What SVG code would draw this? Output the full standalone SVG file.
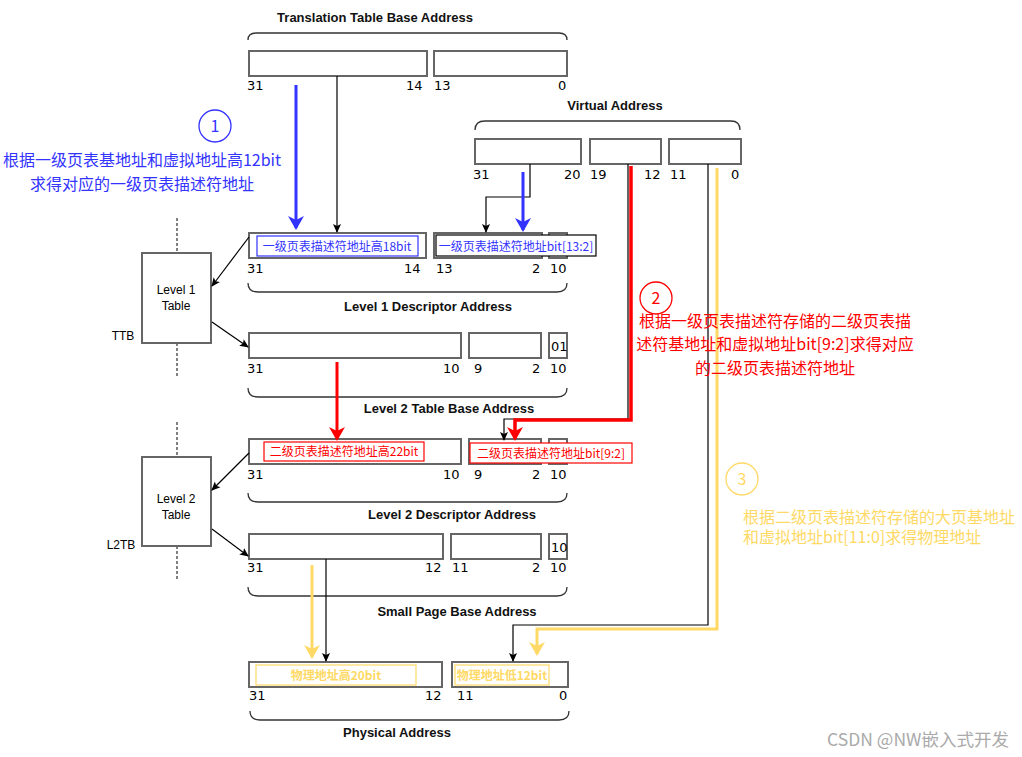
<svg xmlns="http://www.w3.org/2000/svg" width="1022" height="757" viewBox="0 0 1022 757">
<defs>
<style>
.bx{fill:#fff;stroke:#666;stroke-width:2}
.br{fill:none;stroke:#333;stroke-width:1.3}
.n{font-family:"DejaVu Sans",sans-serif;font-size:13px;fill:#000}
.t{font-family:"Liberation Sans",Arial,sans-serif;font-size:13px;font-weight:bold;fill:#111;text-anchor:middle}
.lt{font-family:"Liberation Sans",Arial,sans-serif;font-size:12px;fill:#000;text-anchor:middle}
.cn{font-family:"Noto Sans CJK SC",sans-serif;font-size:12px;text-anchor:middle}
.an{font-family:"Noto Sans CJK SC",sans-serif;font-size:16px}
.k{fill:none;stroke:#000;stroke-width:1.2}
.dot{stroke:#000;stroke-width:1;stroke-dasharray:3,2}
</style>
<marker id="ak" markerWidth="10" markerHeight="10" refX="8" refY="5" orient="auto" markerUnits="userSpaceOnUse"><path d="M0,1 L9,5 L0,9 L2,5z" fill="#000"/></marker>
<marker id="ab" markerWidth="16" markerHeight="16" refX="12" refY="8" orient="auto" markerUnits="userSpaceOnUse"><path d="M0,0 L14,8 L0,16 L4,8z" fill="#3333FF"/></marker>
<marker id="ar" markerWidth="16" markerHeight="16" refX="12" refY="8" orient="auto" markerUnits="userSpaceOnUse"><path d="M0,0 L14,8 L0,16 L4,8z" fill="#FF0000"/></marker>
<marker id="ay" markerWidth="16" markerHeight="16" refX="12" refY="8" orient="auto" markerUnits="userSpaceOnUse"><path d="M0,0 L14,8 L0,16 L4,8z" fill="#FFD966"/></marker>
</defs>
<rect width="1022" height="757" fill="#fff"/>

<g id="ttba">
<text class="t" x="375" y="22">Translation Table Base Address</text>
<path class="br" d="M248,40 Q248,33 256,33 L559,33 Q567,33 567,40"/>
<rect class="bx" x="249" y="51" width="178" height="25"/>
<rect class="bx" x="434" y="51" width="133" height="25"/>
<text class="n" x="247" y="90">31</text><text class="n" x="406" y="90">14</text>
<text class="n" x="434" y="90">13</text><text class="n" x="558" y="90">0</text>
</g>

<g id="va">
<text class="t" x="615" y="110">Virtual Address</text>
<path class="br" d="M475,130 Q475,121 485,121 L731,121 Q740,121 740,130"/>
<rect class="bx" x="475" y="139" width="106" height="25"/>
<rect class="bx" x="590" y="139" width="71" height="25"/>
<rect class="bx" x="669" y="139" width="72" height="25"/>
<text class="n" x="473" y="179">31</text><text class="n" x="564" y="179">20</text>
<text class="n" x="590" y="179">19</text><text class="n" x="644" y="179">12</text>
<text class="n" x="670" y="179">11</text><text class="n" x="731" y="179">0</text>
</g>

<g id="l1desc">
<rect class="bx" x="249" y="233" width="177" height="25"/>
<rect class="bx" x="434" y="233" width="108" height="25"/>
<rect class="bx" x="549" y="233" width="18" height="25"/>
<rect x="257" y="236" width="161" height="20" fill="#fff" stroke="#3333FF" stroke-width="1.2"/>
<text class="cn" x="337" y="251" fill="#3333FF">一级页表描述符地址高18bit</text>
<rect x="436" y="235" width="160" height="21" fill="#fff" stroke="#000" stroke-width="1.2"/>
<text class="cn" x="516" y="251" fill="#3333FF">一级页表描述符地址bit[13:2]</text>
<text class="n" x="247" y="273">31</text><text class="n" x="404" y="273">14</text>
<text class="n" x="436" y="273">13</text><text class="n" x="532" y="273">2</text><text class="n" x="550" y="273">10</text>
<path class="br" d="M248,283 Q248,292 258,292 L557,292 Q567,292 567,283"/>
<text class="t" x="428" y="311">Level 1 Descriptor Address</text>
</g>

<g id="l1table">
<line class="dot" x1="177" y1="218" x2="177" y2="253"/>
<line class="dot" x1="177" y1="343" x2="177" y2="378"/>
<rect class="bx" x="142" y="253" width="69" height="90"/>
<text class="lt" x="176" y="294">Level 1</text><text class="lt" x="176" y="310">Table</text>
<text class="lt" x="123" y="340">TTB</text>
</g>

<g id="l2tba">
<rect class="bx" x="249" y="333" width="212" height="25"/>
<rect class="bx" x="469" y="333" width="72" height="25"/>
<rect class="bx" x="549" y="333" width="18" height="25"/>
<text class="n" x="551" y="351">01</text>
<text class="n" x="247" y="373">31</text><text class="n" x="443" y="373">10</text>
<text class="n" x="474" y="373">9</text><text class="n" x="532" y="373">2</text><text class="n" x="550" y="373">10</text>
<path class="br" d="M248,388 Q248,397 258,397 L557,397 Q567,397 567,388"/>
<text class="t" x="449" y="413">Level 2 Table Base Address</text>
</g>

<g id="l2desc">
<rect class="bx" x="249" y="439" width="212" height="25"/>
<rect class="bx" x="469" y="439" width="72" height="25"/>
<rect class="bx" x="549" y="439" width="18" height="25"/>
<rect x="264" y="442" width="160" height="19" fill="#fff" stroke="#FF0000" stroke-width="1.2"/>
<text class="cn" x="344" y="456" fill="#FF0000">二级页表描述符地址高22bit</text>
<rect x="470" y="443" width="162" height="20" fill="#fff" stroke="#FF0000" stroke-width="1.2"/>
<text class="cn" x="551" y="458" fill="#FF0000">二级页表描述符地址bit[9:2]</text>
<text class="n" x="247" y="479">31</text><text class="n" x="443" y="479">10</text>
<text class="n" x="474" y="479">9</text><text class="n" x="532" y="479">2</text><text class="n" x="550" y="479">10</text>
<path class="br" d="M248,493 Q248,502 258,502 L557,502 Q567,502 567,493"/>
<text class="t" x="452" y="519">Level 2 Descriptor Address</text>
</g>

<g id="l2table">
<line class="dot" x1="177" y1="422" x2="177" y2="457"/>
<line class="dot" x1="177" y1="546" x2="177" y2="581"/>
<rect class="bx" x="142" y="457" width="69" height="89"/>
<text class="lt" x="176" y="503">Level 2</text><text class="lt" x="176" y="519">Table</text>
<text class="lt" x="121" y="549">L2TB</text>
</g>

<g id="spba">
<rect class="bx" x="249" y="534" width="194" height="25"/>
<rect class="bx" x="451" y="534" width="90" height="25"/>
<rect class="bx" x="549" y="534" width="18" height="25"/>
<text class="n" x="551" y="552">10</text>
<text class="n" x="247" y="572">31</text><text class="n" x="425" y="572">12</text>
<text class="n" x="452" y="572">11</text><text class="n" x="532" y="572">2</text><text class="n" x="550" y="572">10</text>
<path class="br" d="M248,587 Q248,596 258,596 L557,596 Q567,596 567,587"/>
<text class="t" x="457" y="616">Small Page Base Address</text>
</g>

<g id="pa">
<rect class="bx" x="249" y="662" width="193" height="25"/>
<rect class="bx" x="452" y="662" width="116" height="25"/>
<rect x="256" y="665" width="160" height="20" fill="#fff" stroke="#FFD966" stroke-width="1.2"/>
<text class="cn" x="336" y="680" fill="#FFD966" font-weight="bold">物理地址高20bit</text>
<rect x="455" y="665" width="94" height="20" fill="#fff" stroke="#FFD966" stroke-width="1.2"/>
<text class="cn" x="502" y="680" fill="#FFD966" font-weight="bold">物理地址低12bit</text>
<text class="n" x="249" y="700">31</text><text class="n" x="425" y="700">12</text>
<text class="n" x="457" y="700">11</text><text class="n" x="559" y="700">0</text>
<path class="br" d="M250,711 Q250,720 260,720 L559,720 Q569,720 569,711"/>
<text class="t" x="397" y="737">Physical Address</text>
</g>

<g id="connectors">
<line class="k" x1="337" y1="76" x2="337" y2="232" marker-end="url(#ak)"/>
<polyline class="k" points="530,164 530,197 486,197 486,232" marker-end="url(#ak)"/>
<line class="k" x1="249" y1="237" x2="212" y2="286" marker-end="url(#ak)"/>
<line class="k" x1="212" y1="322" x2="248" y2="347" marker-end="url(#ak)"/>
<line class="k" x1="249" y1="453" x2="212" y2="490" marker-end="url(#ak)"/>
<line class="k" x1="212" y1="529" x2="248" y2="556" marker-end="url(#ak)"/>
<polyline class="k" points="628,164 628,419 504,419 504,440" marker-end="url(#ak)"/>
<line class="k" x1="326" y1="559" x2="326" y2="661" marker-end="url(#ak)"/>
<polyline class="k" points="708,164 708,625 513,625 513,661" marker-end="url(#ak)"/>
<line x1="296" y1="85" x2="296" y2="228" stroke="#3333FF" stroke-width="3" marker-end="url(#ab)"/>
<line x1="523" y1="172" x2="523" y2="230" stroke="#3333FF" stroke-width="3" marker-end="url(#ab)"/>
<line x1="337" y1="362" x2="337" y2="439" stroke="#FF0000" stroke-width="3" marker-end="url(#ar)"/>
<polyline points="631,166 631,420 515,420 515,439" fill="none" stroke="#FF0000" stroke-width="3.5" marker-end="url(#ar)"/>
<line x1="312" y1="565" x2="312" y2="657" stroke="#FFD966" stroke-width="3" marker-end="url(#ay)"/>
<polyline points="717,168 717,629 537,629 537,654" fill="none" stroke="#FFD966" stroke-width="3" marker-end="url(#ay)"/>
</g>

<g id="notes">
<circle cx="215" cy="126" r="16" fill="#fff" stroke="#3333FF" stroke-width="1.3"/>
<text class="an" x="215" y="132" fill="#3333FF" text-anchor="middle">1</text>
<text class="an" x="142" y="166" fill="#3333FF" text-anchor="middle">根据一级页表基地址和虚拟地址高12bit</text>
<text class="an" x="142" y="190" fill="#3333FF" text-anchor="middle">求得对应的一级页表描述符地址</text>
<circle cx="656" cy="298" r="16" fill="#fff" stroke="#FF0000" stroke-width="1.3"/>
<text class="an" x="656" y="304" fill="#FF0000" text-anchor="middle">2</text>
<text class="an" x="775" y="327" fill="#FF0000" text-anchor="middle">根据一级页表描述符存储的二级页表描</text>
<text class="an" x="775" y="350" fill="#FF0000" text-anchor="middle">述符基地址和虚拟地址bit[9:2]求得对应</text>
<text class="an" x="775" y="374" fill="#FF0000" text-anchor="middle">的二级页表描述符地址</text>
<circle cx="742" cy="479" r="16" fill="#fff" stroke="#FFD966" stroke-width="1.3"/>
<text class="an" x="742" y="485" fill="#FFD966" text-anchor="middle">3</text>
<text class="an" x="743" y="523" fill="#FFD966">根据二级页表描述符存储的大页基地址</text>
<text class="an" x="743" y="543" fill="#FFD966">和虚拟地址bit[11:0]求得物理地址</text>
</g>
<text x="918" y="746" font-family="Noto Sans CJK SC,sans-serif" font-size="17.5" fill="#aaa" text-anchor="middle">CSDN @NW嵌入式开发</text>
</svg>
